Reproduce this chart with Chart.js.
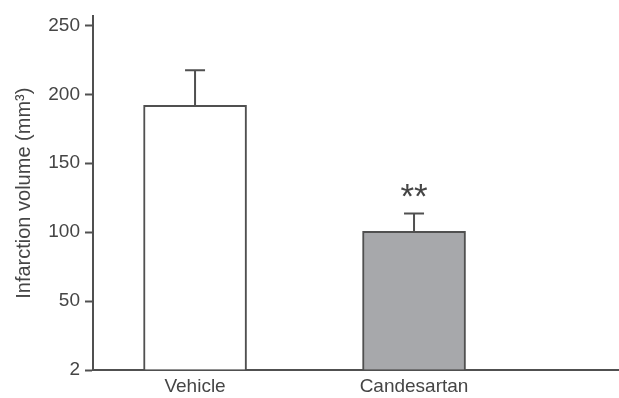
<!DOCTYPE html>
<html>
<head>
<meta charset="utf-8">
<script src="https://cdn.jsdelivr.net/npm/chart.js@4/dist/chart.umd.min.js"></script>
<style>
  html, body { margin: 0; padding: 0; background: #ffffff; }
  #wrap { width: 619px; height: 398px; }
</style>
</head>
<body>
<div id="wrap"><canvas id="c" width="619" height="398"></canvas></div>
<script>
// Infarction volume by treatment group, mean with SEM
const categories = ['Vehicle', 'Candesartan'];
const means = [192, 100.5];
const errors = [25.5, 13];
const significance = ['', '**'];
const yTickValues = [0, 50, 100, 150, 200, 250];
const yTickLabels = ['2', '50', '100', '150', '200', '250'];
const fills = ['#ffffff', '#a7a8ab'];

const ink = '#505050';
const textInk = '#454545';
const font = 'Liberation Sans, Arial, Helvetica, sans-serif';

// Whiskers above each bar plus the significance marks
const errorBarPlugin = {
  id: 'errorBars',
  afterDatasetsDraw(chart) {
    const { ctx, scales: { x, y } } = chart;
    ctx.save();
    ctx.strokeStyle = ink;
    ctx.lineWidth = 2;
    categories.forEach((_, i) => {
      const px = x.getPixelForValue(i + 1);
      const top = y.getPixelForValue(means[i] + errors[i]);
      const base = y.getPixelForValue(means[i]);
      ctx.beginPath();
      ctx.moveTo(px, base);
      ctx.lineTo(px, top);
      ctx.moveTo(px - 10, top);
      ctx.lineTo(px + 10, top);
      ctx.stroke();
      if (significance[i]) {
        ctx.fillStyle = textInk;
        ctx.font = '35px ' + font;
        ctx.textAlign = 'center';
        ctx.textBaseline = 'alphabetic';
        ctx.fillText(significance[i], px, top - 6);
      }
    });
    ctx.restore();
  }
};

new Chart(document.getElementById('c'), {
  type: 'bar',
  data: {
    datasets: [{
      data: means.map((v, i) => ({ x: i + 1, y: v })),
      backgroundColor: fills,
      borderColor: ink,
      borderWidth: 2,
      borderSkipped: 'start',
      barThickness: 103
    }]
  },
  options: {
    responsive: false,
    animation: false,
    layout: { padding: { top: 15, right: 0, left: 0, bottom: 0 } },
    plugins: { legend: { display: false }, tooltip: { enabled: false } },
    scales: {
      x: {
        type: 'linear',
        offset: false,
        min: 0.534,
        max: 2.936,
        afterBuildTicks(scale) {
          scale.ticks = categories.map((_, i) => ({ value: i + 1 }));
        },
        afterFit(scale) { scale.height = 28; },
        ticks: {
          callback: (v) => categories[v - 1] ?? '',
          color: textInk,
          font: { family: font, size: 19 },
          padding: 5,
          maxRotation: 0,
          autoSkip: false
        },
        grid: { display: false, drawTicks: false, offset: false },
        border: { display: true, color: ink, width: 2 }
      },
      y: {
        min: 0,
        max: 256.5,
        afterBuildTicks(scale) {
          scale.ticks = yTickValues.map(v => ({ value: v }));
        },
        afterFit(scale) { scale.width = 93; },
        ticks: {
          callback: (v) => yTickLabels[yTickValues.indexOf(v)],
          color: textInk,
          font: { family: font, size: 19 },
          padding: 5
        },
        grid: {
          drawOnChartArea: false,
          drawTicks: true,
          tickLength: 8,
          tickWidth: 2,
          tickColor: ink
        },
        border: { display: true, color: ink, width: 2 },
        title: {
          display: true,
          text: 'Infarction volume (mm³)',
          color: textInk,
          font: { family: font, size: 20 },
          padding: { top: 12, bottom: 0 }
        }
      }
    }
  },
  plugins: [errorBarPlugin]
});
</script>
</body>
</html>
